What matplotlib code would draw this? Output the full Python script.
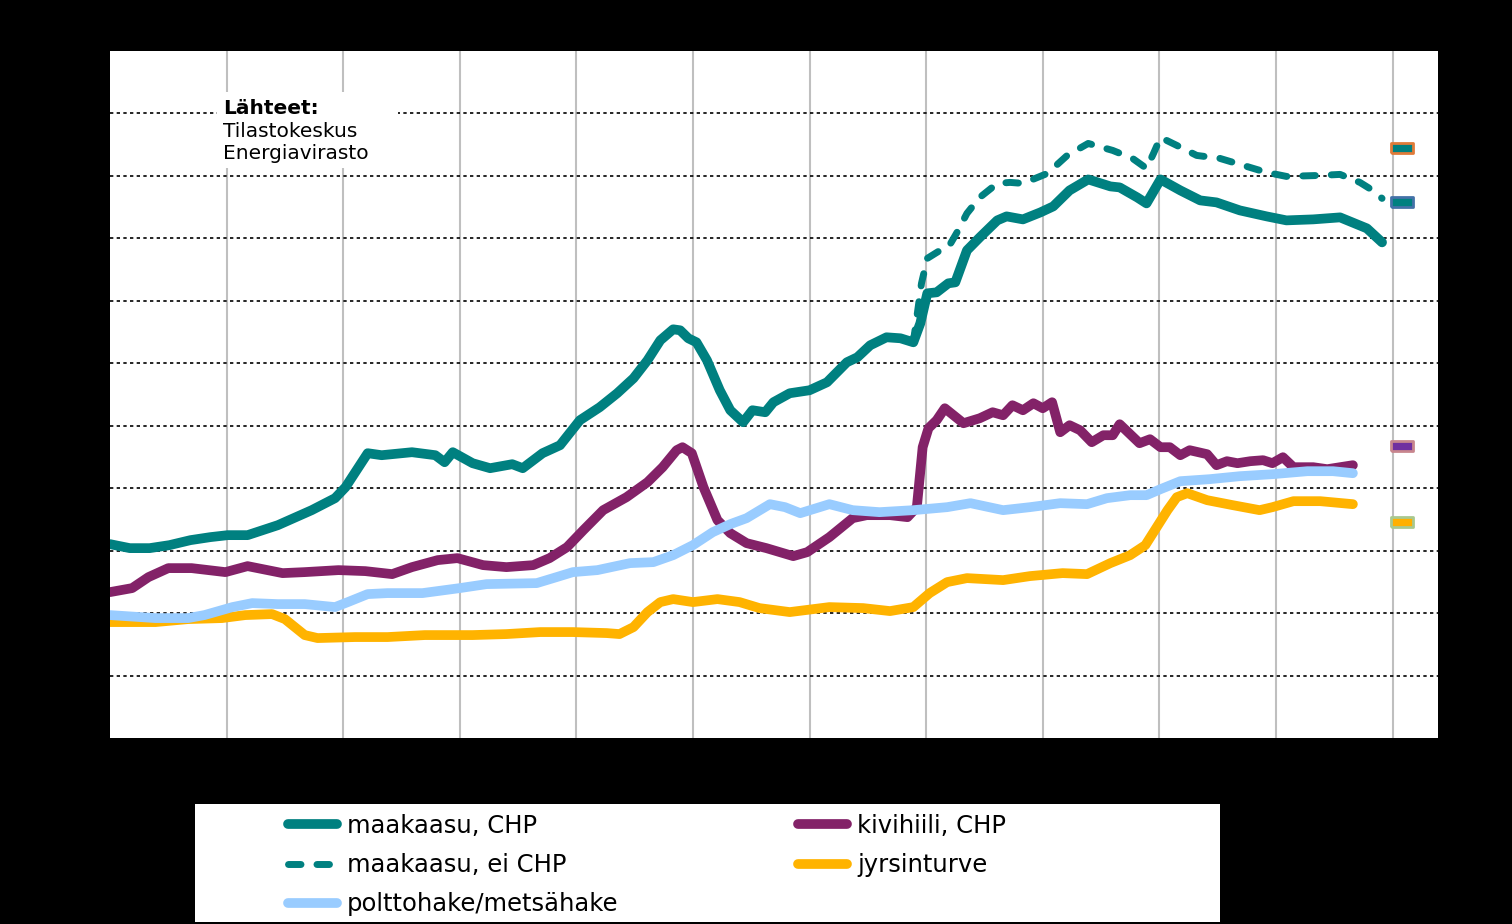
import matplotlib.pyplot as plt
from matplotlib.patches import Rectangle

# x = years from start of the axis (gridline every year), y = price
gas_chp_x = [0.00, 0.17, 0.34, 0.51, 0.69, 0.86, 1.01, 1.18, 1.44, 1.73, 1.93, 2.02, 2.21, 2.33, 2.59,
             2.79, 2.87, 2.94, 3.11, 3.26, 3.45, 3.54, 3.71, 3.86, 4.03, 4.20, 4.35, 4.49, 4.61, 4.72,
             4.83, 4.89, 4.96, 5.03, 5.12, 5.23, 5.32, 5.43, 5.51, 5.62, 5.69, 5.83, 6.00, 6.15, 6.32,
             6.41, 6.52, 6.66, 6.78, 6.89, 6.95, 7.01, 7.09, 7.19, 7.25, 7.35, 7.46, 7.61, 7.69, 7.83,
             7.98, 8.09, 8.23, 8.39, 8.58, 8.66, 8.81, 8.89, 9.01, 9.18, 9.35, 9.49, 9.69, 9.92, 10.09,
             10.32, 10.55, 10.78, 10.91]
gas_chp_y = [15.52, 15.2, 15.2, 15.44, 15.84, 16.08, 16.24, 16.24, 17.04, 18.24, 19.2, 20.08, 22.8, 22.64, 22.88,
             22.64, 22.08, 22.88, 22.0, 21.6, 21.92, 21.6, 22.8, 23.44, 25.44, 26.48, 27.6, 28.8, 30.24, 31.84,
             32.72, 32.64, 32.0, 31.68, 30.24, 27.84, 26.24, 25.28, 26.24, 26.08, 26.88, 27.6, 27.84, 28.48, 30.08,
             30.48, 31.44, 32.08, 32.0, 31.68, 33.2, 35.6, 35.68, 36.4, 36.48, 39.04, 40.08, 41.44, 41.76, 41.52,
             42.08, 42.56, 43.84, 44.72, 44.16, 44.08, 43.28, 42.8, 44.72, 43.84, 43.04, 42.88, 42.24, 41.76, 41.44,
             41.52, 41.68, 40.8, 39.68]

gas_nochp_x = [6.89, 6.96, 7.01, 7.12, 7.19, 7.26, 7.35, 7.46, 7.61, 7.72, 7.83, 8.04, 8.21, 8.39, 8.60,
               8.77, 8.89, 8.95, 9.01, 9.15, 9.32, 9.52, 9.72, 9.92, 10.09, 10.38, 10.55, 10.72, 10.83, 10.91]
gas_nochp_y = [31.68, 36.4, 38.4, 39.04, 39.28, 40.4, 42.0, 43.28, 44.4, 44.48, 44.4, 45.2, 46.64, 47.6, 47.04,
               46.4, 45.6, 46.8, 48.08, 47.44, 46.64, 46.4, 45.84, 45.28, 44.96, 45.04, 45.12, 44.48, 43.84, 43.2]

coal_x = [0.00, 0.19, 0.33, 0.50, 0.70, 0.99, 1.18, 1.48, 1.67, 1.96, 2.19, 2.42, 2.59, 2.81, 2.98,
          3.20, 3.40, 3.63, 3.77, 3.92, 4.06, 4.23, 4.43, 4.61, 4.74, 4.86, 4.91, 4.99, 5.09, 5.21,
          5.32, 5.46, 5.63, 5.86, 5.98, 6.17, 6.37, 6.49, 6.69, 6.84, 6.92, 6.97, 7.02, 7.09, 7.16,
          7.32, 7.46, 7.57, 7.66, 7.74, 7.83, 7.92, 8.00, 8.08, 8.15, 8.23, 8.32, 8.42, 8.52, 8.60,
          8.66, 8.83, 8.92, 9.01, 9.09, 9.18, 9.26, 9.41, 9.49, 9.58, 9.67, 9.78, 9.89, 9.97, 10.06,
          10.15, 10.32, 10.44, 10.55, 10.66]
coal_y = [11.68, 12.0, 12.88, 13.6, 13.6, 13.28, 13.76, 13.2, 13.28, 13.44, 13.36, 13.12, 13.68, 14.24, 14.4,
          13.84, 13.68, 13.84, 14.4, 15.28, 16.64, 18.24, 19.28, 20.48, 21.68, 23.04, 23.28, 22.8, 20.08, 17.44,
          16.4, 15.6, 15.2, 14.56, 14.88, 16.08, 17.6, 17.84, 17.84, 17.68, 18.48, 23.28, 24.8, 25.44, 26.4,
          25.2, 25.6, 26.08, 25.84, 26.64, 26.24, 26.8, 26.4, 26.88, 24.48, 25.04, 24.64, 23.68, 24.24, 24.24,
          25.12, 23.6, 23.92, 23.28, 23.28, 22.64, 23.04, 22.72, 21.84, 22.16, 22.0, 22.16, 22.24, 22.0, 22.48,
          21.68, 21.68, 21.52, 21.68, 21.84]

peat_x = [0.00, 0.39, 0.67, 0.96, 1.16, 1.39, 1.50, 1.67, 1.78, 2.10, 2.38, 2.70, 3.11, 3.40, 3.69,
          3.97, 4.26, 4.37, 4.49, 4.61, 4.72, 4.83, 5.00, 5.21, 5.40, 5.57, 5.83, 6.17, 6.46, 6.69,
          6.89, 7.03, 7.18, 7.35, 7.66, 7.89, 8.17, 8.38, 8.58, 8.75, 8.88, 9.07, 9.15, 9.24, 9.41,
          9.63, 9.86, 9.97, 10.15, 10.38, 10.66]
peat_y = [9.28, 9.28, 9.52, 9.6, 9.84, 9.92, 9.52, 8.24, 8.0, 8.08, 8.08, 8.24, 8.24, 8.32, 8.48,
          8.48, 8.4, 8.32, 8.88, 10.08, 10.88, 11.12, 10.88, 11.12, 10.88, 10.4, 10.08, 10.48, 10.4, 10.16,
          10.48, 11.6, 12.48, 12.8, 12.64, 12.96, 13.2, 13.12, 14.0, 14.64, 15.44, 18.24, 19.28, 19.6, 19.04,
          18.64, 18.24, 18.48, 18.96, 18.96, 18.72]

chips_x = [0.00, 0.39, 0.67, 0.81, 1.05, 1.22, 1.44, 1.67, 1.93, 2.04, 2.21, 2.38, 2.68, 3.00, 3.23,
           3.66, 3.83, 3.97, 4.18, 4.46, 4.66, 4.83, 5.00, 5.17, 5.32, 5.46, 5.66, 5.79, 5.92, 6.17,
           6.37, 6.60, 6.89, 7.18, 7.38, 7.66, 7.89, 8.15, 8.38, 8.55, 8.75, 8.89, 9.01, 9.18, 9.43,
           9.69, 9.97, 10.27, 10.49, 10.66]
chips_y = [9.84, 9.6, 9.6, 9.84, 10.48, 10.8, 10.72, 10.72, 10.48, 10.88, 11.52, 11.6, 11.6, 12.0, 12.32,
           12.4, 12.88, 13.28, 13.44, 14.0, 14.08, 14.64, 15.44, 16.48, 17.12, 17.6, 18.72, 18.48, 18.0, 18.72,
           18.24, 18.08, 18.24, 18.48, 18.8, 18.24, 18.48, 18.8, 18.72, 19.2, 19.44, 19.44, 19.92, 20.56, 20.72,
           20.96, 21.12, 21.36, 21.36, 21.2]

# single end-point markers at the right edge
end_x = 11.08
end_vals = [47.2, 42.9, 23.4, 17.3]
end_fill = ['#008080', '#008080', '#7030A0', '#FFB000']
end_edge = ['#E07B39', '#4472A8', '#C8868E', '#A9C98F']

teal = '#008080'
purple = '#832268'
orange = '#FFB300'
lightblue = '#99CCFF'

fig = plt.figure(figsize=(15.12, 9.24), dpi=100, facecolor='black')
ax = fig.add_axes([110/1512, 1-738/924, 1328/1512, 687/924])
ax.set_facecolor('white')

ax.plot(gas_chp_x, gas_chp_y, color=teal, lw=7, solid_capstyle='round', solid_joinstyle='round',
        label='maakaasu, CHP', zorder=6)
ax.plot(coal_x, coal_y, color=purple, lw=7, solid_capstyle='round', solid_joinstyle='round',
        label='kivihiili, CHP', zorder=4)
ax.plot(gas_nochp_x, gas_nochp_y, color=teal, lw=5, dashes=(1.8, 2.3), dash_capstyle='round',
        label='maakaasu, ei CHP', zorder=3)
ax.plot(peat_x, peat_y, color=orange, lw=7, solid_capstyle='round', solid_joinstyle='round',
        label='jyrsinturve', zorder=3.5)
ax.plot(chips_x, chips_y, color=lightblue, lw=7, solid_capstyle='round', solid_joinstyle='round',
        label='polttohake/metsähake', zorder=5)

marker = [(-1, -0.42), (1, -0.42), (1, 0.42), (-1, 0.42), (-1, -0.42)]
for v, fc, ec in zip(end_vals, end_fill, end_edge):
    ax.plot([end_x], [v], marker=marker, ms=16, mfc=fc, mec=ec, mew=2, ls='none', zorder=7)

ax.set_xlim(0, 11.39)
ax.set_ylim(0, 55)
ax.set_xticks(range(1, 12))
ax.set_yticks(range(5, 55, 5))
ax.grid(axis='x', color='#BFBFBF', lw=1.5)
ax.grid(axis='y', color='black', lw=1.2, ls=(0, (2, 2)))
ax.tick_params(length=0, labelbottom=False, labelleft=False)
for s in ax.spines.values():
    s.set_visible(False)

# sources box
ax.add_patch(Rectangle((0.0806, 0.83), 0.136, 0.11, transform=ax.transAxes,
                       facecolor='white', edgecolor='none', zorder=2))
ax.text(0.085, 0.930, 'Lähteet:', transform=ax.transAxes, fontsize=14.5, fontweight='bold',
        va='top', ha='left', zorder=3)
ax.text(0.085, 0.896, 'Tilastokeskus\nEnergiavirasto', transform=ax.transAxes, fontsize=14.5,
        va='top', ha='left', linespacing=1.17, zorder=3)

# legend box
fig.patches.append(Rectangle((195/1512, 1-922/924), 1025/1512, 118/924, transform=fig.transFigure,
                             facecolor='white', edgecolor='none', zorder=0))
h, l = ax.get_legend_handles_labels()
order = [0, 2, 4, 1, 3]
leg = fig.legend([h[i] for i in order], [l[i] for i in order], ncol=2, frameon=False,
                 loc='upper left', bbox_to_anchor=(288/1512, 1-814/924), fontsize=17.5,
                 handlelength=2.0, handletextpad=0.42, columnspacing=7.4, labelspacing=0.62,
                 borderaxespad=0, borderpad=0)

fig.savefig('out.png', dpi=100, facecolor='black')
